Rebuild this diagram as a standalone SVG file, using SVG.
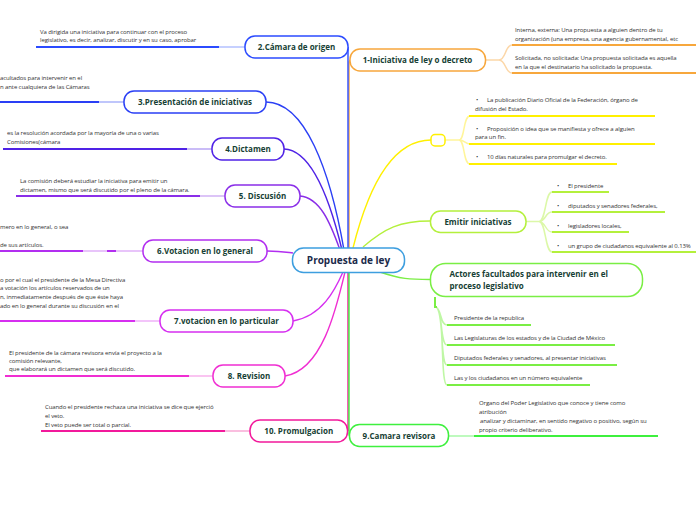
<svg xmlns="http://www.w3.org/2000/svg" width="696" height="520" viewBox="0 0 696 520">
<style>
.t{font-family:"Open Sans","Noto Sans",sans-serif;font-size:6px;fill:#333;letter-spacing:-0.1px}
.n{font-family:"Open Sans","Noto Sans",sans-serif;font-size:8px;font-weight:bold;fill:#173f35;text-anchor:middle}
.c{font-family:"Open Sans","Noto Sans",sans-serif;font-size:10px;font-weight:bold;fill:#1b2a4a;text-anchor:middle}
.box{fill:#fff;stroke-width:1.5}
.lk{fill:none;stroke-width:1.4}
.th{fill:none;stroke-width:2}
.lt{fill:none;stroke-width:1.5}
</style>
<rect width="696" height="520" fill="#fff"/>
<g id="connectors">
  <path class="lk" stroke="#f7a73c" d="M349,248 L349,66 C349,62 349,60 351,60"/>
  <path class="lk" stroke="#2b4bff" d="M348,47 L348,250"/>
  <path class="lk" stroke="#2a3ff5" d="M266,102 C305,102 330,170 344,250"/>
  <path class="lk" stroke="#4f22e6" d="M284,149 C312,150 330,200 342,250"/>
  <path class="lk" stroke="#8a2ee8" d="M300,196 C320,198 330,222 340,250"/>
  <path class="lk" stroke="#b22ef0" d="M267,251 C280,251 285,252 293,253"/>
  <path class="lk" stroke="#d62ff0" d="M293,321 C322,316 335,290 343,272"/>
  <path class="lk" stroke="#f02ed2" d="M285,376 C322,370 336,310 345,272"/>
  <path class="lk" stroke="#f2199b" d="M348,272 L348,431"/>
  <path class="lk" stroke="#3ef03e" d="M349,272 L349,434 C349,435 349,436 350,436"/>
  <path class="lk" stroke="#fff000" d="M353,248 C370,180 395,140 431,140"/>
  <path class="lk" stroke="#b4f03c" d="M363,247 C385,228 400,221 430,221"/>
  <path class="lk" stroke="#7aee44" d="M380,272 C400,279 410,279.5 430,279.5"/>
</g>
<g id="center">
  <rect x="292.5" y="248" width="112" height="24.5" rx="11" class="box" stroke="#3d9edf"/>
  <text class="c" x="348.5" y="264">Propuesta de ley</text>
</g>
<g id="n2">
  <path class="lt" stroke="#b3c0ff" d="M219,47 L245,47"/>
  <path class="th" stroke="#2b4bff" d="M36,47 L219,47"/>
  <rect x="245" y="36" width="103" height="22" rx="10" class="box" stroke="#2b4bff"/>
  <text class="n" x="296.5" y="50">2.Cámara de origen</text>
  <text class="t" x="40" y="33.5">Va dirigida una iniciativa para continuar con el proceso</text>
  <text class="t" x="40" y="42">legislativo, es decir, analizar, discutir y en su caso, aprobar</text>
</g>
<g id="n3">
  <path class="lt" stroke="#aab3fa" d="M99,102 L124,102"/>
  <path class="th" stroke="#2a3ff5" d="M0,102 L99,102"/>
  <rect x="124" y="91" width="142" height="22" rx="10" class="box" stroke="#2a3ff5"/>
  <text class="n" x="195" y="105">3.Presentación de iniciativas</text>
  <text class="t" x="0" y="80">acultados para intervenir en el</text>
  <text class="t" x="0" y="89">n ante cualquiera de las Cámaras</text>
</g>
<g id="n4">
  <path class="lt" stroke="#b9a6f5" d="M187,149 L212,149"/>
  <path class="th" stroke="#4f22e6" d="M3,149 L187,149"/>
  <rect x="212" y="138" width="72" height="22" rx="10" class="box" stroke="#4f22e6"/>
  <text class="n" x="248" y="152">4.Dictamen</text>
  <text class="t" x="7" y="135">es la resolución acordada por la mayoría de una o varias</text>
  <text class="t" x="7" y="144">Comisiones(cámara</text>
</g>
<g id="n5">
  <path class="lt" stroke="#d0b0f5" d="M200,196 L225,196"/>
  <path class="th" stroke="#8a2ee8" d="M16,196 L200,196"/>
  <rect x="225" y="185" width="75" height="22" rx="10" class="box" stroke="#8a2ee8"/>
  <text class="n" x="262.5" y="199">5. Discusión</text>
  <text class="t" x="20" y="182.5">La comisión deberá estudiar la iniciativa para emitir un</text>
  <text class="t" x="20" y="191.5">dictamen, mismo que será discutido por el pleno de la cámara.</text>
</g>
<g id="n6">
  <path class="lt" stroke="#e0b0f8" d="M83,251 L143,251"/>
  <path class="th" stroke="#b22ef0" d="M0,251 L83,251 M107,251 L116,251"/>
  <rect x="143" y="240" width="124" height="22" rx="10" class="box" stroke="#b22ef0"/>
  <text class="n" x="205" y="254">6.Votacion en lo general</text>
  <text class="t" x="0" y="229">mero en lo general, o sea</text>
  <text class="t" x="0" y="246.5">de sus artículos.</text>
</g>
<g id="n7">
  <path class="lt" stroke="#efb0f8" d="M135,321 L160,321"/>
  <path class="th" stroke="#d62ff0" d="M0,321 L135,321"/>
  <rect x="160" y="310" width="133" height="22" rx="10" class="box" stroke="#d62ff0"/>
  <text class="n" x="226.5" y="324">7.votacion en lo particular</text>
  <text class="t" x="0" y="281.5">o por el cual el presidente de la Mesa Directiva</text>
  <text class="t" x="0" y="290">a votación los artículos reservados de un</text>
  <text class="t" x="0" y="299">n, inmediatamente después de que éste haya</text>
  <text class="t" x="0" y="307.5">ado en lo general durante su discusión en el</text>
</g>
<g id="n8">
  <path class="lt" stroke="#f8b0ec" d="M189,376 L213,376"/>
  <path class="th" stroke="#f02ed2" d="M5,376 L189,376"/>
  <rect x="213" y="365" width="72" height="22" rx="10" class="box" stroke="#f02ed2"/>
  <text class="n" x="249" y="379">8. Revision</text>
  <text class="t" x="9" y="354.5">El presidente de la cámara revisora envía el proyecto a la</text>
  <text class="t" x="9" y="362.5">comisión relevante,</text>
  <text class="t" x="9" y="371">que elaborará un dictamen que será discutido.</text>
</g>
<g id="n10">
  <path class="lt" stroke="#f9a8d4" d="M225,431 L250,431"/>
  <path class="th" stroke="#f2199b" d="M41,431 L225,431"/>
  <rect x="250" y="420" width="97.5" height="22" rx="10" class="box" stroke="#f2199b"/>
  <text class="n" x="298.75" y="434">10. Promulgacion</text>
  <text class="t" x="45" y="409">Cuando el presidente rechaza una iniciativa se dice que ejerció</text>
  <text class="t" x="45" y="418">el veto.</text>
  <text class="t" x="45" y="426.5">El veto puede ser total o parcial.</text>
</g>
<g id="n1">
  <path class="lt" stroke="#fcd7a8" d="M485,60 L499,60 C506,60 505,45 512,45 M499,60 C506,60 505,73 512,73"/>
  <path class="th" stroke="#f7a73c" d="M512,45 L696,45 M512,73 L696,73"/>
  <rect x="350" y="49" width="135.5" height="22" rx="10" class="box" stroke="#f7a73c"/>
  <text class="n" x="417.5" y="63">1-Iniciativa de ley o decreto</text>
  <text class="t" x="515" y="32">Interna, externa: Una propuesta a alguien dentro de tu</text>
  <text class="t" x="515" y="40.5">organización (una empresa, una agencia gubernamental, etc</text>
  <text class="t" x="515" y="60">Solicitada, no solicitada: Una propuesta solicitada es aquella</text>
  <text class="t" x="515" y="69">en la que el destinatario ha solicitado la propuesta.</text>
</g>
<g id="ny">
  <path class="lt" stroke="#fff59a" d="M445,140 L459,140 C465,140 463,116 470,116 M459,140 C465,140 465,144 470,144 M459,140 C465,140 463,164 470,164"/>
  <path class="th" stroke="#fff000" d="M469,116 L655,116 M469,144 L655,144 M469,164 L617,164"/>
  <rect x="431" y="134.5" width="14" height="11.5" rx="4" class="box" stroke="#fff000"/>
  <text class="t" x="476" y="101.5">•<tspan x="487">La publicación Diario Oficial de la Federación, órgano de</tspan></text>
  <text class="t" x="475" y="110.5">difusión del Estado.</text>
  <text class="t" x="476" y="130.5">•<tspan x="487">Proposición o idea que se manifiesta y ofrece a alguien</tspan></text>
  <text class="t" x="475" y="139">para un fin.</text>
  <text class="t" x="476" y="159">•<tspan x="487">10 días naturales para promulgar el decreto.</tspan></text>
</g>
<g id="nemitir">
  <path class="lt" stroke="#dcf8a8" d="M526,221.5 L539,221.5 C546,221.5 545,192 552,192 M539,221.5 C546,221.5 545,212 552,212 M539,221.5 C546,221.5 545,232 552,232 M539,221.5 C546,221.5 545,252 552,252"/>
  <path class="th" stroke="#b4f03c" d="M552,192 L609,192 M552,212 L665,212 M552,232 L629,232 M552,252 L696,252"/>
  <rect x="430.5" y="211" width="95.5" height="21.5" rx="10" class="box" stroke="#b4f03c"/>
  <text class="n" x="478" y="224.5">Emitir iniciativas</text>
  <text class="t" x="557" y="187.5">•<tspan x="568">El presidente</tspan></text>
  <text class="t" x="557" y="207.5">•<tspan x="568">diputados y senadores federales,</tspan></text>
  <text class="t" x="557" y="227.5">•<tspan x="568">legisladores locales,</tspan></text>
  <text class="t" x="557" y="247.5">•<tspan x="568">un grupo de ciudadanos equivalente al 0.13%</tspan></text>
</g>
<g id="nactores">
  <path class="lt" stroke="#bff7a5" d="M436,307 C442,310 440,325 447,325 M436,307 C443,310 440,345 447,345 M436,307 C444,310 440,365 447,365 M436,307 C445,310 440,385 447,385"/>
  <path class="th" stroke="#7aee44" d="M435,297 L435,307 L437,307 M447,325 L531,325 M447,345 L615,345 M447,365 L617,365 M447,385 L590,385"/>
  <rect x="430.5" y="263.5" width="212" height="33" rx="15" class="box" stroke="#7aee44"/>
  <text class="n" x="449.5" y="276.5" style="text-anchor:start">Actores facultados para intervenir en el</text>
  <text class="n" x="449.5" y="288.5" style="text-anchor:start">proceso legislativo</text>
  <text class="t" x="454" y="319.5">Presidente de la republica</text>
  <text class="t" x="454" y="339.5">Las Legislaturas de los estados y de la Ciudad de México</text>
  <text class="t" x="454" y="360">Diputados federales y senadores, al presentar iniciativas</text>
  <text class="t" x="454" y="380">Las y los ciudadanos en un número equivalente</text>
</g>
<g id="n9">
  <path class="lt" stroke="#a8f8a8" d="M449,436 L474,436"/>
  <path class="th" stroke="#3ef03e" d="M474,436 L658,436"/>
  <rect x="349.5" y="424.5" width="99" height="22" rx="10" class="box" stroke="#3ef03e"/>
  <text class="n" x="399" y="438.5">9.Camara revisora</text>
  <text class="t" x="479" y="405">Organo del Poder Legislativo que conoce y tiene como</text>
  <text class="t" x="479" y="414">atribución</text>
  <text class="t" x="480" y="422.5">analizar y dictaminar, en sentido negativo o positivo, según su</text>
  <text class="t" x="479" y="431.5">propio criterio deliberativo.</text>
</g>
</svg>
